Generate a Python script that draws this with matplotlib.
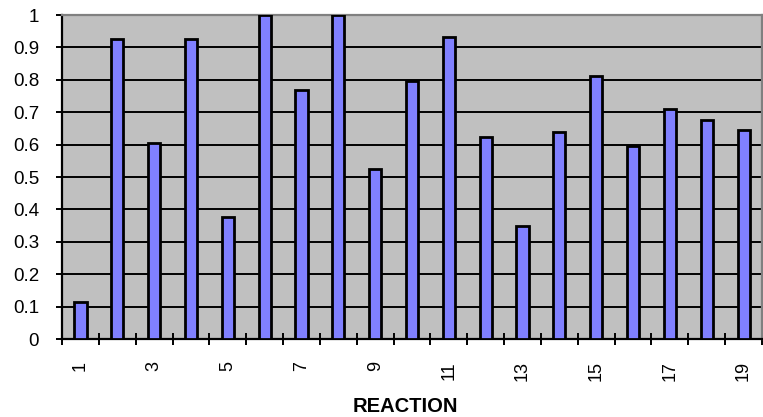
import matplotlib
matplotlib.use("Agg")
import matplotlib.pyplot as plt
import numpy as np

# Reaction index and measured fraction
reactions = list(range(1, 20))
values = [0.115, 0.925, 0.604, 0.925, 0.376, 1.0, 0.769, 1.0, 0.524, 0.797,
          0.931, 0.624, 0.348, 0.640, 0.812, 0.595, 0.709, 0.675, 0.645]
y_ticks = [0, 0.1, 0.2, 0.3, 0.4, 0.5, 0.6, 0.7, 0.8, 0.9, 1]
y_tick_labels = ["0", "0.1", "0.2", "0.3", "0.4", "0.5", "0.6", "0.7", "0.8", "0.9", "1"]
x_label = "REACTION"

plt.rcParams["font.family"] = ["Liberation Sans", "DejaVu Sans"]

fig = plt.figure(figsize=(7.63, 4.17), dpi=100)
ax = fig.add_axes([62 / 763, 1 - 339 / 417, 700 / 763, 324 / 417])

ax.set_facecolor("#C0C0C0")
ax.set_axisbelow(True)
ax.bar(reactions, values, width=0.33, color="#8080FF", edgecolor="black",
       linewidth=2.0, zorder=3)

ax.set_xlim(0.5, len(reactions) + 0.5)
ax.set_ylim(0, 1)

# y axis
ax.set_yticks(y_ticks)
ax.set_yticklabels(y_tick_labels, fontsize=13.5)
ax.yaxis.grid(True, color="black", linewidth=1.4)
ax.tick_params(axis="y", direction="out", length=4.5, width=1.4, pad=12)

# x axis: labels at odd categories, tick marks between categories
odd = [r for r in reactions if r % 2 == 1]
ax.set_xticks(odd)
ax.set_xticklabels([str(r) for r in odd], rotation=90, fontsize=13)
ax.tick_params(axis="x", which="major", length=0, pad=16)
ax.set_xticks(np.arange(0.5, len(reactions) + 1, 1.0), minor=True)
ax.tick_params(axis="x", which="minor", direction="inout", length=9, width=1.4)

ax.set_xlabel(x_label, fontsize=14.5, fontweight="bold")
ax.xaxis.set_label_coords(0.491, -0.18)

for side in ("left", "bottom"):
    ax.spines[side].set_color("black")
    ax.spines[side].set_linewidth(1.6)
for side in ("top", "right"):
    ax.spines[side].set_color("#808080")
    ax.spines[side].set_linewidth(1.6)

fig.savefig("out.png", dpi=100)
